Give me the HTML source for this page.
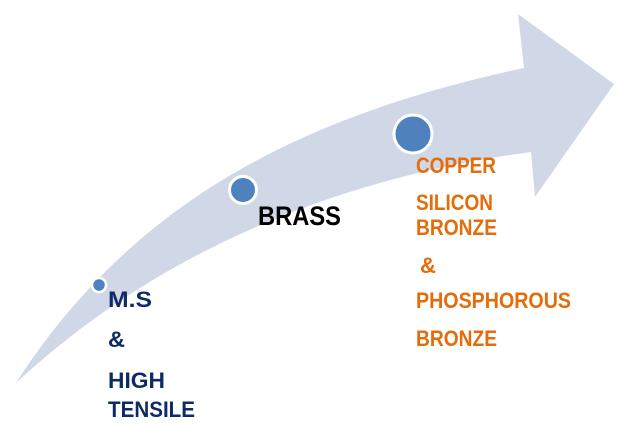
<!DOCTYPE html>
<html><head><meta charset="utf-8"><style>
html,body{margin:0;padding:0;background:#fff;width:617px;height:429px;overflow:hidden}
svg{display:block}
text{font-family:"Liberation Sans",sans-serif;font-weight:bold}
</style></head><body>
<svg width="617" height="429" viewBox="0 0 617 429" xmlns="http://www.w3.org/2000/svg">
<path d="M16,383 C140,190 320,112 524,68 L518,14 L614,84 L535,197 L531,152 C380,172 180,230 16,383 Z" fill="#d0d8e8"/>
<circle cx="99" cy="285" r="7" fill="#4f81bd" stroke="#fff" stroke-width="2.5"/>
<circle cx="243" cy="190" r="13.5" fill="#4f81bd" stroke="#fff" stroke-width="3"/>
<circle cx="413" cy="134" r="19" fill="#4f81bd" stroke="#fff" stroke-width="3"/>
<g fill="#0f2a66" font-size="22">
<text x="108" y="307" textLength="44" lengthAdjust="spacingAndGlyphs">M.S</text>
<text x="108" y="347" textLength="17" lengthAdjust="spacingAndGlyphs">&amp;</text>
<text x="108" y="388" textLength="57" lengthAdjust="spacingAndGlyphs">HIGH</text>
<text x="108" y="417" textLength="87" lengthAdjust="spacingAndGlyphs">TENSILE</text>
</g>
<text x="258" y="225" font-size="27" fill="#000" textLength="83" lengthAdjust="spacingAndGlyphs">BRASS</text>
<g fill="#e46c0a" font-size="22">
<text x="416" y="173" textLength="80" lengthAdjust="spacingAndGlyphs">COPPER</text>
<text x="416" y="210" textLength="77" lengthAdjust="spacingAndGlyphs">SILICON</text>
<text x="416" y="235" textLength="81" lengthAdjust="spacingAndGlyphs">BRONZE</text>
<text x="420" y="273" textLength="16" lengthAdjust="spacingAndGlyphs">&amp;</text>
<text x="416" y="308" textLength="155" lengthAdjust="spacingAndGlyphs">PHOSPHOROUS</text>
<text x="416" y="346" textLength="81" lengthAdjust="spacingAndGlyphs">BRONZE</text>
</g>
</svg>
</body></html>
